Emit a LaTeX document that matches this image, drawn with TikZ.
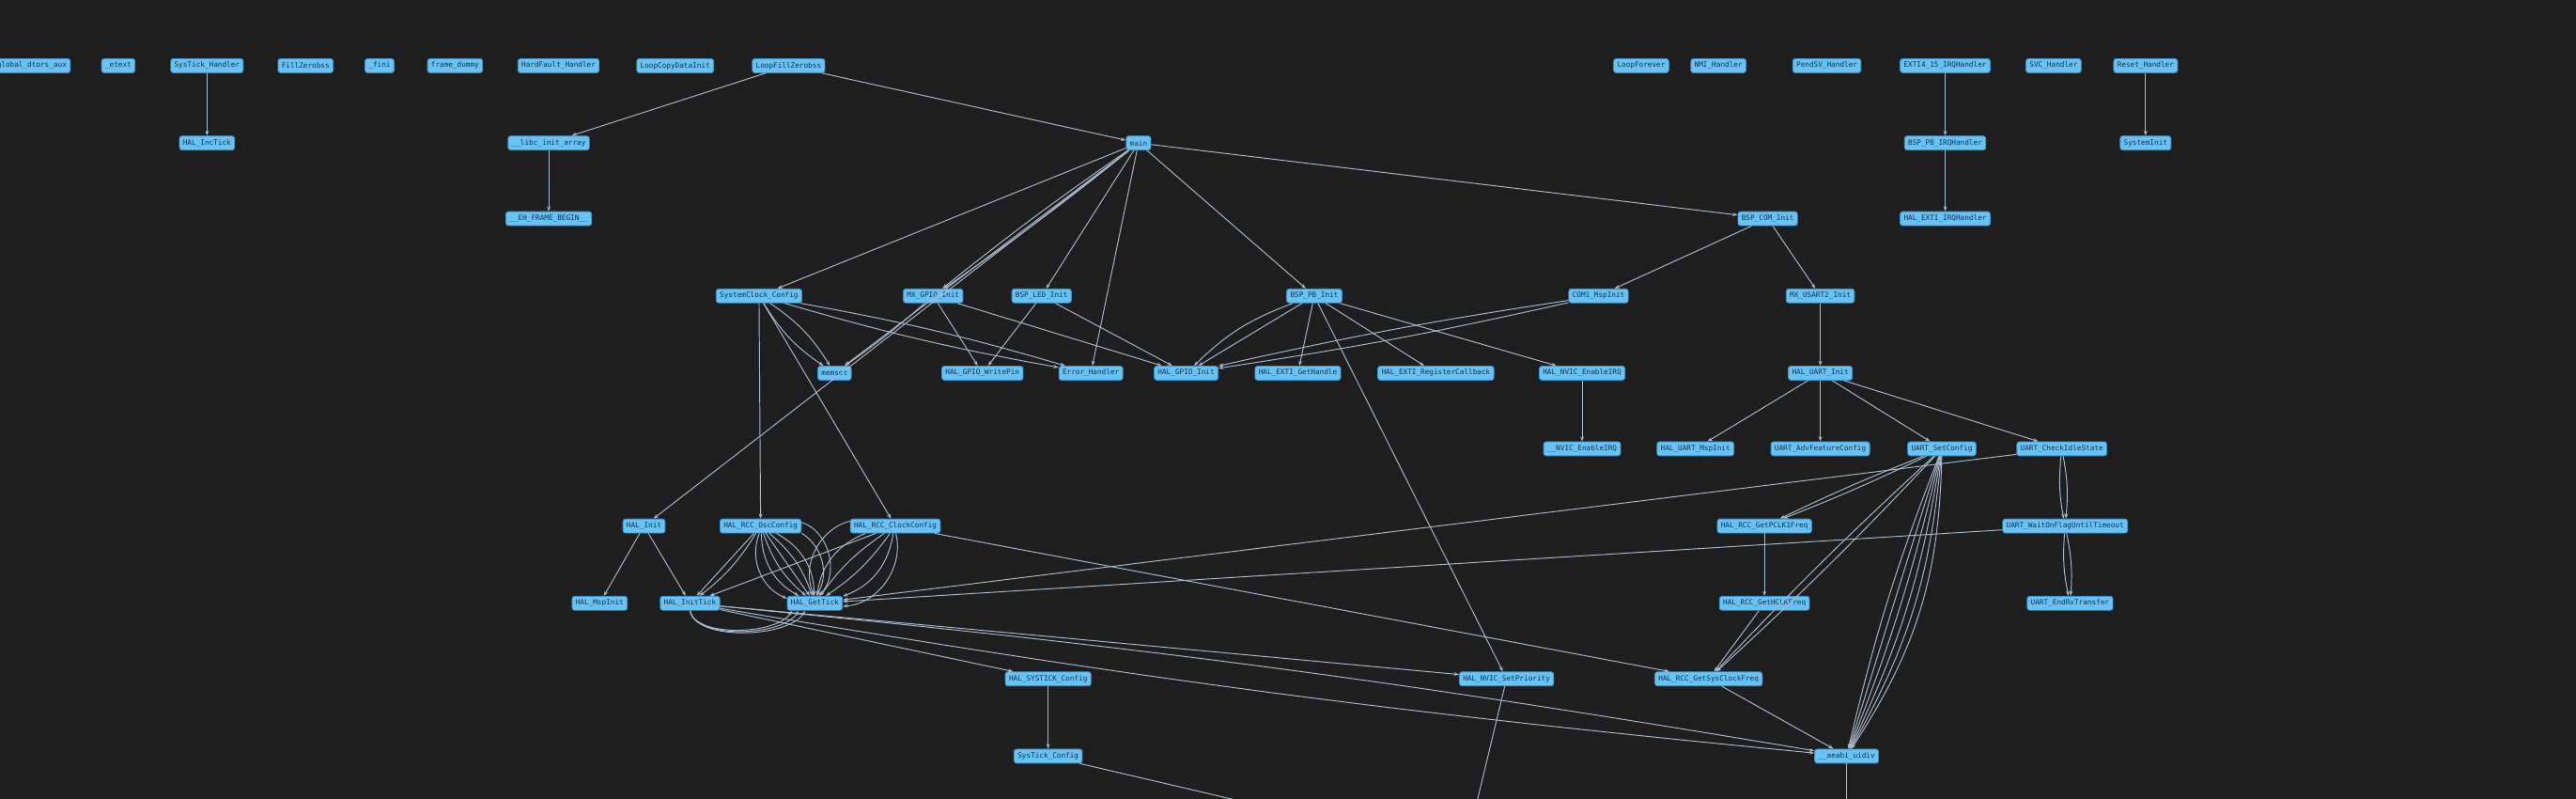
\documentclass[tikz,border=0pt]{standalone}
\usepackage{fontspec}
\setmonofont{DejaVu Sans Mono}
\usetikzlibrary{arrows.meta}
\definecolor{bg}{HTML}{1E1E1E}
\definecolor{nfill}{HTML}{68C3F5}
\definecolor{nline}{HTML}{3F8FC8}
\definecolor{ntext}{HTML}{14324F}
\definecolor{edge}{HTML}{A9B9CB}
\tikzset{
 fn/.style={draw=nline,fill=nfill,rounded corners=1.5pt,text=ntext,font=\fontsize{4.4}{5}\selectfont\ttfamily,inner xsep=2.2pt,inner ysep=0pt,minimum height=8.5pt,line width=0.5pt},
 call/.style={draw=edge,line width=0.55pt,-{Stealth[length=3pt,width=2.2pt]}},
}
\begin{document}
\begin{tikzpicture}[x=1pt,y=-1pt]
\fill[bg] (0,0) rectangle (1568,486);
\useasboundingbox (0,0) rectangle (1568,486);
% row 1
\node[fn,anchor=east] (dtors) at (43,40) {\_\_do\_global\_dtors\_aux};
\node[fn] (etext) at (72,40) {\_etext};
\node[fn] (systickh) at (126,40) {SysTick\_Handler};
\node[fn] (fillz) at (186,40) {FillZerobss};
\node[fn] (fini) at (231,40) {\_fini};
\node[fn] (frame) at (277,40) {frame\_dummy};
\node[fn] (hardf) at (340,40) {HardFault\_Handler};
\node[fn] (lcdi) at (411,40) {LoopCopyDataInit};
\node[fn] (lfz) at (480,40) {LoopFillZerobss};
\node[fn] (lfor) at (999,40) {LoopForever};
\node[fn] (nmi) at (1046,40) {NMI\_Handler};
\node[fn] (pendsv) at (1112,40) {PendSV\_Handler};
\node[fn] (exti) at (1184,40) {EXTI4\_15\_IRQHandler};
\node[fn] (svc) at (1250,40) {SVC\_Handler};
\node[fn] (reset) at (1306,40) {Reset\_Handler};
% row 2
\node[fn] (inctick) at (126,87) {HAL\_IncTick};
\node[fn] (libc) at (334,87) {\_\_libc\_init\_array};
\node[fn] (main) at (693,87) {main};
\node[fn] (pbirq) at (1184,87) {BSP\_PB\_IRQHandler};
\node[fn] (sysinit) at (1306,87) {SystemInit};
% row 3
\node[fn] (eh) at (334,133) {\_\_EH\_FRAME\_BEGIN\_\_};
\node[fn] (cominit) at (1076,133) {BSP\_COM\_Init};
\node[fn] (extiirq) at (1184,133) {HAL\_EXTI\_IRQHandler};
% row 4
\node[fn] (scc) at (462,180) {SystemClock\_Config};
\node[fn] (gpioinit) at (568,180) {MX\_GPIO\_Init};
\node[fn] (ledinit) at (634,180) {BSP\_LED\_Init};
\node[fn] (pbinit) at (800,180) {BSP\_PB\_Init};
\node[fn] (com1) at (973,180) {COM1\_MspInit};
\node[fn] (usart) at (1108,180) {MX\_USART2\_Init};
% row 5
\node[fn] (memset) at (508,227) {memset};
\node[fn] (wpin) at (598,227) {HAL\_GPIO\_WritePin};
\node[fn] (err) at (664,227) {Error\_Handler};
\node[fn] (hgpio) at (722,227) {HAL\_GPIO\_Init};
\node[fn] (gethandle) at (790,227) {HAL\_EXTI\_GetHandle};
\node[fn] (regcb) at (874,227) {HAL\_EXTI\_RegisterCallback};
\node[fn] (enirq) at (963,227) {HAL\_NVIC\_EnableIRQ};
\node[fn] (uinit) at (1108,227) {HAL\_UART\_Init};
% row 6
\node[fn] (nvicen) at (963,273) {\_\_NVIC\_EnableIRQ};
\node[fn] (umsp) at (1032,273) {HAL\_UART\_MspInit};
\node[fn] (uadv) at (1108,273) {UART\_AdvFeatureConfig};
\node[fn] (uset) at (1182,273) {UART\_SetConfig};
\node[fn] (uidle) at (1255,273) {UART\_CheckIdleState};
% row 7
\node[fn] (halinit) at (392,320) {HAL\_Init};
\node[fn] (osc) at (463,320) {HAL\_RCC\_OscConfig};
\node[fn] (clk) at (545,320) {HAL\_RCC\_ClockConfig};
\node[fn] (pclk1) at (1074,320) {HAL\_RCC\_GetPCLK1Freq};
\node[fn] (wait) at (1257,320) {UART\_WaitOnFlagUntilTimeout};
% row 8
\node[fn] (msp) at (365,367) {HAL\_MspInit};
\node[fn] (itick) at (420,367) {HAL\_InitTick};
\node[fn] (gtick) at (496,367) {HAL\_GetTick};
\node[fn] (hclk) at (1074,367) {HAL\_RCC\_GetHCLKFreq};
\node[fn] (endrx) at (1260,367) {UART\_EndRxTransfer};
% row 9
\node[fn] (systcfg) at (638,413) {HAL\_SYSTICK\_Config};
\node[fn] (nvicprio) at (917,413) {HAL\_NVIC\_SetPriority};
\node[fn] (sysclk) at (1040,413) {HAL\_RCC\_GetSysClockFreq};
% row 10
\node[fn] (stcfg) at (638,460) {SysTick\_Config};
\node[fn] (uidiv) at (1124,460) {\_\_aeabi\_uidiv};
\coordinate (o1) at (775,492);
\coordinate (o2) at (898,492);
\coordinate (o3) at (1124,492);
% edges
\draw[call] (systickh) -- (inctick);
\draw[call] (lfz) -- (libc);
\draw[call] (lfz) -- (main);
\draw[call] (libc) -- (eh);
\draw[call] (exti) -- (pbirq);
\draw[call] (pbirq) -- (extiirq);
\draw[call] (reset) -- (sysinit);
\draw[call] (main) -- (scc);
\draw[call] (main) to[bend left=2] (gpioinit);
\draw[call] (main) to[bend right=2] (gpioinit);
\draw[call] (main) -- (memset);
\draw[call] (main) -- (ledinit);
\draw[call] (main) -- (err);
\draw[call] (main) -- (pbinit);
\draw[call] (main) -- (cominit);
\draw[call] (main) -- (halinit);
\draw[call] (scc) to[bend right=12] (memset);
\draw[call] (scc) to[bend left=12] (memset);
\draw[call] (scc) to[bend left=3] (err);
\draw[call] (scc) to[bend right=3] (err);
\draw[call] (scc) -- (osc);
\draw[call] (scc) -- (clk);
\draw[call] (gpioinit) to[bend left=3] (memset);
\draw[call] (gpioinit) -- (wpin);
\draw[call] (gpioinit) -- (hgpio);
\draw[call] (ledinit) -- (wpin);
\draw[call] (ledinit) -- (hgpio);
\draw[call] (pbinit) to[bend right=12] (hgpio);
\draw[call] (pbinit) -- (hgpio);
\draw[call] (pbinit) -- (gethandle);
\draw[call] (pbinit) -- (regcb);
\draw[call] (pbinit) -- (enirq);
\draw[call] (pbinit) -- (nvicprio);
\draw[call] (com1) to[bend left=2] (hgpio);
\draw[call] (com1) to[bend right=2] (hgpio);
\draw[call] (cominit) -- (com1);
\draw[call] (cominit) -- (usart);
\draw[call] (usart) -- (uinit);
\draw[call] (enirq) -- (nvicen);
\draw[call] (uinit) -- (umsp);
\draw[call] (uinit) -- (uadv);
\draw[call] (uinit) -- (uset);
\draw[call] (uinit) -- (uidle);
\draw[call] (halinit) -- (msp);
\draw[call] (halinit) -- (itick);
\draw[call] (osc) -- (itick);
\draw[call] (osc) to[bend left=10] (itick);
\foreach \b in {-45,-30,-15,0,15,30,45,60} \draw[call] (osc) to[bend left=\b] (gtick);
\foreach \b in {-50,-30,-10,10,30,50} \draw[call] (clk) to[bend left=\b] (gtick);
\draw[call] (clk) -- (itick);
\draw[call] (clk) -- (sysclk);
\foreach \b in {30,50,70} \draw[call] (itick.south) to[out=-80,in=-120,looseness=0.7] ([xshift=-\b*0.2pt]gtick.south);
\draw[call] (itick) -- (systcfg);
\draw[call] (itick) -- (nvicprio);
\draw[call] (itick) to[bend left=2] (uidiv);
\draw[call] (itick) to[bend right=2] (uidiv);
\draw[call] (uidle) -- (gtick);
\draw[call] (wait) -- (gtick);
\draw[call] (systcfg) -- (stcfg);
\draw[call] (stcfg) -- (o1);
\draw[call] (nvicprio) -- (o2);
\draw[call] (uidiv) -- (o3);
\draw[call] (uset) to[bend left=2] (pclk1);
\draw[call] (uset) to[bend right=2] (pclk1);
\draw[call] (uset) to[bend left=2] (sysclk);
\draw[call] (uset) to[bend right=2] (sysclk);
\foreach \b in {-4,0,4,8,12,16} \draw[call] (uset) to[bend left=\b] (uidiv);
\draw[call] (uidle) to[bend left=8] (wait);
\draw[call] (uidle) to[bend right=8] (wait);
\draw[call] (wait) to[bend left=8] (endrx);
\draw[call] (wait) to[bend right=8] (endrx);
\draw[call] (pclk1) -- (hclk);
\draw[call] (hclk) -- (sysclk);
\draw[call] (sysclk) -- (uidiv);
\end{tikzpicture}
\end{document}
